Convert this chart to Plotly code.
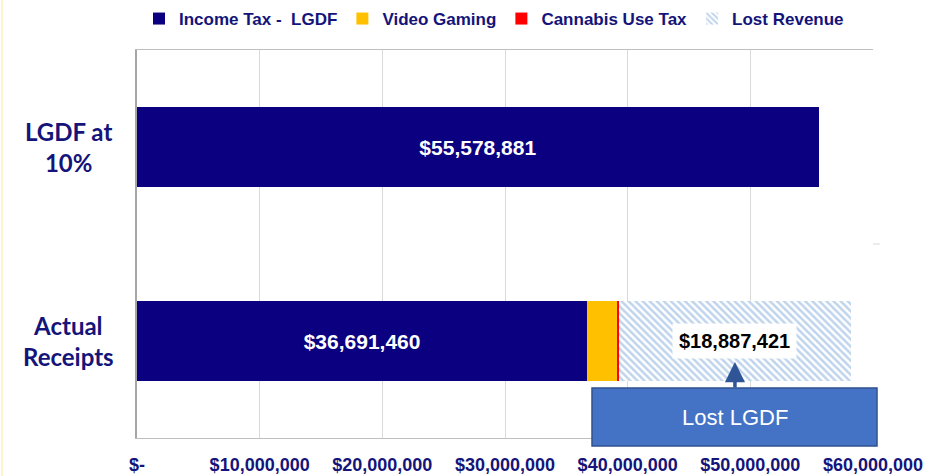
import plotly.graph_objects as go

categories = ["Actual Receipts", "LGDF at 10%"]
category_labels = ["Actual<br>Receipts", "LGDF at<br>10%"]
income_tax = [36691460, 55578881]
video_gaming = [2450000, 0]
cannabis_tax = [160000, 0]
lost_revenue = [18887421, 0]
tick_vals = [0, 10000000, 20000000, 30000000, 40000000, 50000000, 60000000]
tick_text = ["$-", "$10,000,000", "$20,000,000", "$30,000,000", "$40,000,000", "$50,000,000", "$60,000,000"]

NAVY = "#0A0080"
TXT = "#14147A"
SANS = "Liberation Sans, Arial, sans-serif"

L, T, W, H = 137, 50, 736, 388  # plot area in pixels


def px(xp):
    return (xp - L) / W


def py(yp):
    return (T + H - yp) / H


fig = go.Figure()
fig.add_trace(go.Bar(
    y=categories, x=income_tax, orientation="h", name="Income Tax -  LGDF",
    marker=dict(color=NAVY, line=dict(width=0)),
    text=[f"${v:,.0f}" for v in income_tax], textposition="inside",
    insidetextanchor="middle",
    textfont=dict(color="white", size=21, family=SANS, weight=700),
    width=0.41,
))
fig.add_trace(go.Bar(
    y=categories, x=video_gaming, orientation="h", name="Video Gaming",
    marker=dict(color="#FFC000", line=dict(width=0)), width=0.41,
))
fig.add_trace(go.Bar(
    y=categories, x=cannabis_tax, orientation="h", name="Cannabis Use Tax",
    marker=dict(color="#FF0000", line=dict(width=0)), width=0.41,
))
fig.add_trace(go.Bar(
    y=categories, x=lost_revenue, orientation="h", name="Lost Revenue",
    marker=dict(color="white", line=dict(width=0),
                pattern=dict(shape="\\", fgcolor="#80AADA", bgcolor="white", size=5, solidity=0.5)),
    width=0.41,
))

start = income_tax[0] + video_gaming[0] + cannabis_tax[0]
mid = start + lost_revenue[0] / 2
annotations = [
    dict(x=mid, y=categories[0], xref="x", yref="y", text=f"<b>${lost_revenue[0]:,.0f}</b>",
         showarrow=False, bgcolor="white", borderpad=6, xanchor="center",
         font=dict(color="black", size=20, family=SANS)),
    dict(x=mid, y=py(362), xref="x", yref="paper", text="", showarrow=True,
         ax=0, ay=27, arrowhead=2, arrowsize=1.15, arrowwidth=3.5, arrowcolor="#2F5597"),
    dict(x=px((592 + 877) / 2), y=py(417), xref="paper", yref="paper", text="Lost LGDF",
         showarrow=False, xanchor="center", yanchor="middle",
         font=dict(color="white", size=22, family=SANS)),
]
for lab, cat in zip(category_labels, categories):
    annotations.append(dict(x=px(68), y=cat, xref="paper", yref="y", text=f"<b>{lab}</b>",
                            showarrow=False, align="center", xanchor="center", yanchor="middle",
                            font=dict(color=TXT, size=24, family="Lato, DejaVu Sans, sans-serif")))

shapes = [
    dict(type="rect", xref="paper", yref="paper",
         x0=px(592), x1=px(877), y0=py(446), y1=py(388),
         fillcolor="#4472C4", line=dict(color="#2F528F", width=1.5), layer="above"),
    dict(type="line", xref="paper", yref="paper", x0=1.0, x1=px(880), y0=0.5, y1=0.5,
         line=dict(color="#D9D9D9", width=1)),
    dict(type="line", xref="paper", yref="paper", x0=px(2), x1=px(2),
         y0=py(476), y1=py(0), line=dict(color="#FFF2CC", width=2)),
]

fig.update_layout(
    barmode="stack",
    width=942, height=476,
    margin=dict(l=L, r=942 - L - W, t=T, b=476 - T - H, autoexpand=False),
    paper_bgcolor="white", plot_bgcolor="white",
    showlegend=True,
    legend=dict(orientation="h", x=px(494), y=py(19),
                xanchor="center", yanchor="middle", itemwidth=30, traceorder="normal",
                font=dict(color=TXT, size=17, family=SANS, weight=700), tracegroupgap=0,
                itemclick=False),
    annotations=annotations,
    shapes=shapes,
)
fig.update_xaxes(range=[0, 60000000], tickvals=tick_vals, ticktext=tick_text,
                 showgrid=True, gridcolor="#D9D9D9", gridwidth=1, zeroline=False,
                 showline=True, linecolor="#BFBFBF", mirror=True, automargin=False,
                 ticks="", ticklabelstandoff=10,
                 tickfont=dict(color=TXT, size=18, family=SANS, weight=700))
fig.update_yaxes(categoryorder="array", categoryarray=categories, range=[-0.5, 1.5],
                 showticklabels=False, showgrid=False, zeroline=False, automargin=False,
                 showline=True, linecolor="#A6A6A6", linewidth=1.5, ticks="")

fig.write_html("out.html", config={"displayModeBar": False},
               post_script="document.body.style.margin='0';document.body.style.overflow='hidden';")
